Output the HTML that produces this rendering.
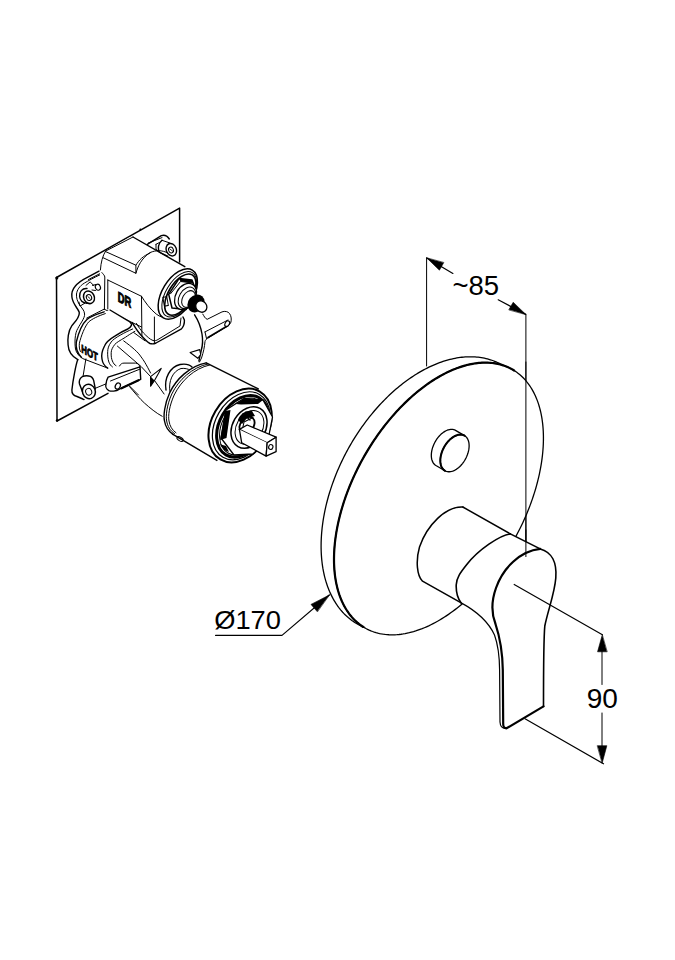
<!DOCTYPE html>
<html><head><meta charset="utf-8"><style>
html,body{margin:0;padding:0;background:#fff;}
svg{display:block;}
text{font-family:"Liberation Sans",sans-serif;fill:#000;}
</style></head><body>
<svg width="675" height="960" viewBox="0 0 675 960" stroke-linecap="round" stroke-linejoin="round">
<rect width="675" height="960" fill="#fff"/>
<path d="M56.5,277.5 L179.6,208.1 L179.6,262" stroke="#000" fill="none" stroke-width="1.5" />
<path d="M56.5,277.5 L57,421 L108,393.4" stroke="#000" fill="none" stroke-width="1.5" />
<circle cx="56.8" cy="278" r="1.5" fill="#000"/>
<circle cx="57" cy="420.5" r="1.2" fill="#000"/>
<circle cx="140.4" cy="229.6" r="1.0" fill="#000"/>
<path d="M147.3,244.3 L161.3,235.7 C 164,234.8 167,235.5 169.3,239 L 177,247 L 172,258 L 158,251.7 Z" fill="#fff" stroke="none"/>
<path d="M147.3,244.3 L161.3,235.7 C 164,234.8 167,235.5 169.3,239" stroke="#000" fill="none" stroke-width="1.4" />
<path d="M148.3,243 L162,237.6" stroke="#000" fill="none" stroke-width="1.0" />
<path d="M156,244.3 L156,249.3 L159,251.5" stroke="#000" fill="none" stroke-width="1.0" />
<path d="M156,244.3 L159.5,242.5" stroke="#000" fill="none" stroke-width="1.0" />
<path d="M162,240.3 L171.3,242.3 L175,256 L168,256.3 L159.3,252.3 C 157.5,248 158.5,243 162,240.3 Z" fill="#fff" stroke="none"/>
<path d="M162,240.3 L170,243" stroke="#000" fill="none" stroke-width="1.0" />
<path d="M162,240.3 C 158.5,243 157.5,248 159.3,252.3 L167.5,256.2" stroke="#000" fill="none" stroke-width="1.4" />
<ellipse cx="171.3" cy="249.7" rx="5.0" ry="6.4" transform="rotate(-22 171.3 249.7)" fill="#fff" stroke="#000" stroke-width="1.4"/>
<ellipse cx="171" cy="250" rx="2.4" ry="2.9" transform="rotate(-22 171 250)" fill="none" stroke="#000" stroke-width="1.0"/>
<path d="M169.8,249 L172.5,251" stroke="#000" fill="none" stroke-width="0.8" />
<path d="M105.6,251.1 L130,237 L184.8,266.7 L197,279 L200,300 L205,318 L231,313 L231,325 L206,340 L204,352 L190,372 L150,378 L140,392 L108,392 L77,396 L68,345 L72,325 L79,316 L72,291 L77,282 L100.4,269.6 C 101,262 103,255 105.6,251.1 Z" fill="#fff" stroke="none"/>
<path d="M105.6,251.1 L133,237" stroke="#000" fill="none" stroke-width="1.0" />
<path d="M133,237 L184.8,266.7" stroke="#000" fill="none" stroke-width="1.4" />
<path d="M106.3,251.9 L135.9,265.2 L135.9,273.3 L103.3,257.8" stroke="#000" fill="none" stroke-width="1.0" />
<path d="M135.9,273.3 C 138,266 141,259 150,252.6 C 156,250 162,250 168,253" stroke="#000" fill="none" stroke-width="1.0" />
<path d="M135.9,265.2 C 139,260 143,256 150,253" stroke="#000" fill="none" stroke-width="1.0" />
<path d="M105.6,251.1 C 102.5,256 101,262 100.4,270" stroke="#000" fill="none" stroke-width="1.0" />
<path d="M99,271.2 L87.8,277.1 C 82,280 77.5,283 75,286.5 C 72,290 71.5,294 71.9,297 C 72.3,301 74.5,304.5 76.5,307.5 C 78.3,310 79.3,311.5 79.3,313 C 79.3,318 75,322 71.9,325.6 C 68,331 67.5,340 68.1,345 C 68.5,352 71,356 77.8,359.6" stroke="#000" fill="none" stroke-width="1.4" />
<path d="M99.6,273.8 L88.5,279.5 M99.6,275 C 94,277.5 88,281 84.5,283 C 79.5,286 77,290 76.5,294 C 76.2,298 77.5,301 79,304 C 81.5,308 84.4,310 84.6,314 C 85,318 80,324 77.8,328.5 C 74.8,333 74.5,343 75.5,349 C 76.3,353 79,356 82.2,358.1" stroke="#000" fill="none" stroke-width="1.0" />
<path d="M86,285.4 L90.1,281.9 L93.7,285.4" stroke="#000" fill="none" stroke-width="1.0" />
<path d="M78.9,302 L80,306.1 L84.8,303.2" stroke="#000" fill="none" stroke-width="1.0" />
<path d="M84.5,288 C 80,288.5 79,293 79.6,297 C 80.5,301 83,302.5 87,303 L 94,297 L 90,290 Z" fill="#fff" stroke="none"/>
<path d="M87,288.5 C 82,288 79.3,292 79.6,296.5 C 80,300.5 82.5,302.8 87,303.3" stroke="#000" fill="none" stroke-width="1.4" />
<ellipse cx="89" cy="297.3" rx="5.3" ry="6.5" transform="rotate(-25 89 297.3)" fill="#fff" stroke="#000" stroke-width="1.5"/>
<ellipse cx="89" cy="297.5" rx="2.6" ry="3.0" transform="rotate(-25 89 297.5)" fill="none" stroke="#000" stroke-width="1.0"/>
<path d="M87.8,296.5 L90,298.5" stroke="#000" fill="none" stroke-width="0.9" />
<path d="M92.5,285.4 L96,284.5" stroke="#000" fill="none" stroke-width="1.0" />
<ellipse cx="97.9" cy="287.2" rx="2.5" ry="3" transform="rotate(-25 97.9 287.2)" fill="#fff" stroke="#000" stroke-width="1.1"/>
<path d="M92,290 L95.5,290.5" stroke="#000" fill="none" stroke-width="1.0" />
<path d="M101.9,272.6 C 103,274 104.8,275.5 104.8,277 L104.4,309.3" stroke="#000" fill="none" stroke-width="1.0" />
<path d="M107.8,280 L107.8,309" stroke="#000" fill="none" stroke-width="1.0" />
<path d="M107.8,280 L141.5,296.3" stroke="#000" fill="none" stroke-width="1.0" />
<path d="M104.4,309.3 L141.5,327" stroke="#000" fill="none" stroke-width="1.0" />
<path d="M104.4,309 L86.7,318.1" stroke="#000" fill="none" stroke-width="1.0" />
<g transform="translate(117.8,301.3) skewY(27) scale(0.66,1)"><text x="0" y="0" font-size="14.2" font-weight="bold" stroke="#000" stroke-width="1.0">DR</text></g>
<path d="M141.5,296.3 L141.9,336" stroke="#000" fill="none" stroke-width="1.0" />
<path d="M132,322.5 C 134.5,326 136.5,330 140,334 C 143,337.5 147,342 150,343.5 C 152,344.2 154,344 156,343 L181.5,328.9 C 184,326 184.5,322 184.4,320 L183,317" stroke="#000" fill="none" stroke-width="1.4" />
<path d="M136.5,323.5 C 138.5,327 140.5,330 143.5,333 C 146.5,336 150,339.5 153,340.5 C 155,341 156.5,340.5 158,339.5 L180,326 L181,318" stroke="#000" fill="none" stroke-width="1.0" />
<path d="M154.4,317 L154.4,343" stroke="#000" fill="none" stroke-width="1.0" />
<path d="M141.5,296.3 C 145,302 150,309 156.3,314.1 C 160,317 164,318 168,318" stroke="#000" fill="none" stroke-width="1.0" />
<path d="M86.9,319.5 C 82,324 78,335 76.3,342 C 75.5,348 77,353 81.6,357.4 L107.7,368.1 C 103,363 101,356 101.7,352 C 102.5,346 108,339 114.8,336.1 L127.8,329 C 132,326 131,322 127.8,320.7 L110,310 Z" fill="#fff" stroke="none"/>
<path d="M104.1,311.8 C 97,314 90,316.5 86.9,319.5 C 82,324 78,335 76.3,342 C 75.5,348 77,353 81.6,357.4" stroke="#000" fill="none" stroke-width="1.4" />
<path d="M105.3,313.6 C 98,316 92,319 88.7,321.9 C 85,326 81,336 79.4,343.2 C 79,347 79.5,349.5 80.4,351.5" stroke="#000" fill="none" stroke-width="1.0" />
<path d="M110,310 L127.8,320.7 C 131,322 132,325 131.4,325.4 C 130.5,327.5 129,328.3 127.8,329 C 122,331.5 118,334 114.8,336.1 C 110,339 106,342 104.5,346 C 102,351 101.3,356 102,359 C 102.5,363 104.5,366 107.7,368.1" stroke="#000" fill="none" stroke-width="1.4" />
<path d="M132.6,329 C 128,331 124,333 120.7,334.9 C 116,337.5 112.5,340 111.2,342 C 108.5,345.5 107.7,349 107.7,351.5 C 107.5,355 107.8,359 108.9,362.1 C 109.8,364.5 111,366 112.4,366.9" stroke="#000" fill="none" stroke-width="1.0" />
<path d="M134.9,331.3 C 131,333.5 128,335.5 125.4,337.3 C 120,340.5 116.5,342.5 114.8,344.4 C 112.5,347.5 111.2,350 111.2,352.7 C 111,356 111.5,359 112.4,361 C 113.5,363.5 114.5,365 116,365.7" stroke="#000" fill="none" stroke-width="1.0" />
<path d="M82.8,358.6 L107.7,368.1" stroke="#000" fill="none" stroke-width="1.0" />
<g transform="translate(81.3,352.3) skewY(29) scale(0.68,1)"><text x="0" y="0" font-size="11.5" font-weight="bold" stroke="#000" stroke-width="0.9">HOT</text></g>
<path d="M117.4,346.1 L141.1,366.5 L150.6,376.6" stroke="#000" fill="none" stroke-width="1.0" />
<path d="M123.7,340.9 C 132,347 138,352 141.1,356.9 C 143.5,360 146,364 150.6,373" stroke="#000" fill="none" stroke-width="1.0" />
<path d="M133.7,332.5 L145,340.8" stroke="#000" fill="none" stroke-width="1.0" />
<path d="M129.6,386.7 C 134,392 140,399 144.4,403 C 150,408 156,413 162.2,416.3" stroke="#000" fill="none" stroke-width="1.0" />
<path d="M150.6,376.6 L161.2,368.4 L154.5,380.5 L150.6,386.2 Z" stroke="#000" fill="#fff" stroke-width="1.1" />
<path d="M150.6,376.6 L154.5,380.5 L150.6,386.2 Z" fill="#000"/>
<path d="M154.5,380.5 L164.1,394" stroke="#000" fill="none" stroke-width="1.0" />
<path d="M77.8,359.6 C 76,364 73,380 71.9,390 C 71.7,393 73.5,395.5 77,396.5 L 84,399.5" stroke="#000" fill="none" stroke-width="1.4" />
<path d="M85.9,358.9 L83,376.7" stroke="#000" fill="none" stroke-width="1.0" />
<path d="M79.3,378.1 C 81,376.5 85,375.5 88.9,375.9 C 91.5,376.5 93.5,379 94.1,382.6 L 95,395 L 84,399 L 78,390 Z" fill="#fff" stroke="none"/>
<path d="M82.6,392 L79.5,384 C 78.8,381 79,379 82.2,376.7 C 85,375.5 88,375.6 90.5,376.4 C 92.5,377.5 93.8,380 94.1,382.6 L95.3,389" stroke="#000" fill="none" stroke-width="1.4" />
<ellipse cx="88.9" cy="391.5" rx="6.4" ry="7.3" transform="rotate(-20 88.9 391.5)" fill="#fff" stroke="#000" stroke-width="1.5"/>
<ellipse cx="88.7" cy="391.8" rx="3.0" ry="3.4" transform="rotate(-20 88.7 391.8)" fill="none" stroke="#000" stroke-width="1.0"/>
<path d="M94.8,388.5 L107.4,383.3" stroke="#000" fill="none" stroke-width="1.0" />
<path d="M194.6,314.8 L202.8,314.1 C 204,316 205,318.5 207.2,319.3 L222,311.9 C 225,310.8 228,311.5 229.5,313.5 C 231.5,316 231.5,320 230.9,322.2 C 230,324.5 228,326 226.5,326.7 L207.2,338.5 L203.5,350 L201.3,350 Z" fill="#fff" stroke="none"/>
<path d="M202.8,314.1 C 204,316 205,318.5 207.2,319.3 L222,311.9 C 225,310.8 228,311.5 229.5,313.5 C 231.5,316 231.5,320 230.9,322.2 C 230,324.5 228,326 226.5,326.7 L207.2,338.5 C 205.5,339.8 205,341 205,341.5 C 204.5,347 203.5,352 201.5,358 L199.5,362" stroke="#000" fill="none" stroke-width="1.0" />
<path d="M205,331.9 L228,320" stroke="#000" fill="none" stroke-width="1.0" />
<path d="M205,331.9 L206.5,338.5" stroke="#000" fill="none" stroke-width="1.0" />
<path d="M208,337.5 L226.5,326.5" stroke="#000" fill="none" stroke-width="1.6" />
<ellipse cx="227.2" cy="323.7" rx="2.1" ry="3.1" transform="rotate(30 227.2 323.7)" fill="none" stroke="#000" stroke-width="1.1"/>
<path d="M194.6,314.8 C 198,320 201,328 202,334 C 203,340 202.5,346 201.3,350 C 200.5,354 199.5,358 198.9,361.1" stroke="#000" fill="none" stroke-width="1.4" />
<path d="M190.1,352.5 L199.7,349.6 L200.7,354.5 L197.8,358.3 Z" stroke="#000" fill="#fff" stroke-width="1.1" />
<ellipse cx="177.8" cy="294" rx="28" ry="15.5" transform="rotate(-58.8 177.8 294)" fill="#fff" stroke="#000" stroke-width="1.5"/>
<ellipse cx="179.2" cy="294.3" rx="25.3" ry="13.3" transform="rotate(-58.8 179.2 294.3)" fill="none" stroke="#000" stroke-width="1.0"/>
<ellipse cx="180.3" cy="294.6" rx="23" ry="11.8" transform="rotate(-58.8 180.3 294.6)" fill="none" stroke="#000" stroke-width="1.6"/>
<path d="M168.7,294.4 L179,278.5 L192,280 L196.5,292 L186,309.5 L172,308 Z" stroke="#000" fill="#fff" stroke-width="1.5" />
<path d="M179,278.5 L192,280 L193,283 L180.5,281.5 Z" fill="#000"/>
<path d="M170.5,293.8 L180.5,281.5 L193,283" stroke="#000" fill="none" stroke-width="1.0" />
<ellipse cx="185.5" cy="296.5" rx="14" ry="9.8" transform="rotate(-60 185.5 296.5)" fill="#fff" stroke="#000" stroke-width="1.3"/>
<ellipse cx="187" cy="297.8" rx="11.5" ry="7.8" transform="rotate(-60 187 297.8)" fill="none" stroke="#000" stroke-width="1.0"/>
<ellipse cx="188.5" cy="299" rx="9" ry="6" transform="rotate(-60 188.5 299)" fill="none" stroke="#000" stroke-width="1.0"/>
<rect x="163.5" y="297" width="4" height="9" fill="none" stroke="#000" stroke-width="1" transform="rotate(-10 165 301)"/>
<ellipse cx="196" cy="303.5" rx="9.5" ry="8" transform="rotate(-50 196 303.5)" fill="#000" stroke="#000" stroke-width="0"/>
<ellipse cx="201.3" cy="306.5" rx="5.3" ry="6" transform="rotate(-40 201.3 306.5)" fill="#fff" stroke="#000" stroke-width="1.3"/>
<path d="M166,390 C 164,378 170,367 180,364.5 C 186,363.5 190,365 192,367" stroke="#000" fill="none" stroke-width="1.4" />
<path d="M170,392 C 168,381 173,371 181,368.5 C 185,368 188,369 190,370" stroke="#000" fill="none" stroke-width="1.0" />
<path d="M206.2,362.9 C 190,366 176,379 169.6,393 C 164.5,404 163.3,416 164.5,421 C 165.5,427 168,431 173,434.4 L216.9,460.4 L254.4,452.5 L271.8,410.1 L258.3,388.9 Z" fill="#fff" stroke="none"/>
<path d="M206.2,362.9 C 190,366 176,379 169.6,393 C 164.5,404 163.3,416 164.5,421 C 165.5,427 168,431 173,434.4" stroke="#000" fill="none" stroke-width="1.4" />
<path d="M207.8,364 C 192,367.5 178.5,380 171.8,394 C 166.8,405 165.6,416 166.7,421 C 167.6,426.5 170,430.5 174.5,433.5" stroke="#000" fill="none" stroke-width="1.0" />
<path d="M209.6,365 C 194,368.5 181,381 174.2,395 C 169.2,406 168,416 169,421 C 169.8,426 172,430 176,432.8" stroke="#000" fill="none" stroke-width="1.0" />
<path d="M206.2,362.9 L258.3,388.9" stroke="#000" fill="none" stroke-width="1.4" />
<path d="M173,434.4 L216.9,460.4" stroke="#000" fill="none" stroke-width="1.4" />
<ellipse cx="180.1" cy="439.1" rx="3.5" ry="1.8" transform="rotate(30 180.1 439.1)" fill="none" stroke="#000" stroke-width="1"/>
<ellipse cx="240.1" cy="425.5" rx="39.3" ry="28.6" transform="rotate(-59.85 240.1 425.5)" fill="#fff" stroke="#000" stroke-width="2.0"/>
<ellipse cx="241.2" cy="425.8" rx="36.3" ry="25.8" transform="rotate(-59.85 241.2 425.8)" fill="none" stroke="#000" stroke-width="1.2"/>
<ellipse cx="242.5" cy="426.3" rx="33" ry="23" transform="rotate(-59.85 242.5 426.3)" fill="none" stroke="#000" stroke-width="3.0"/>
<ellipse cx="243.3" cy="426.6" rx="30.5" ry="21" transform="rotate(-59.85 243.3 426.6)" fill="none" stroke="#000" stroke-width="1.0"/>
<path d="M226,410 L243.9,398.5 L263,400 L272.5,417 L268,440 L252.8,454 L234,455 L221,438 Z" stroke="#000" fill="#fff" stroke-width="1.3" />
<path d="M236,404 L243.9,398.5 L263,400 L258,404 L241,404.5 Z" fill="#000"/>
<path d="M220,440 L225,411 L230.5,410 L226.5,438 Z" fill="#000"/>
<path d="M219.5,444 L224,450 L229,452 L226,446 Z" fill="#000"/>
<ellipse cx="249" cy="427.5" rx="22" ry="16.5" transform="rotate(-59.85 249 427.5)" fill="#fff" stroke="#000" stroke-width="1.5"/>
<ellipse cx="249.5" cy="427.5" rx="18" ry="13" transform="rotate(-59.85 249.5 427.5)" fill="none" stroke="#000" stroke-width="1.0"/>
<ellipse cx="247" cy="425" rx="9" ry="6.5" transform="rotate(-50 247 425)" fill="none" stroke="#000" stroke-width="1.8"/>
<path d="M238,420 C 240,414 246,410 252,411 L 255,416 L 247,418 L 242,424 Z" fill="#000"/>
<path d="M243,414 L250,420 M246,412 L253,418" stroke="#000" fill="none" stroke-width="1.3" />
<path d="M241,436 L244,422 L252,418" stroke="#000" fill="none" stroke-width="1.1" />
<path d="M239.4,429.4 L247.2,425 L276.1,437.2 L267.2,442.8 Z" stroke="#000" fill="#fff" stroke-width="1.3" />
<path d="M239.4,429.4 L241.7,442.8 L266.1,456.1 L267.2,442.8" stroke="#000" fill="#fff" stroke-width="1.3" />
<path d="M267.2,442.8 L276.1,437.2 L276.1,451.7 L266.1,456.1 Z" stroke="#000" fill="#fff" stroke-width="1.3" />
<ellipse cx="270.8" cy="447" rx="2.1" ry="2.5" transform="rotate(20 270.8 447)" fill="none" stroke="#000" stroke-width="1.1"/>
<path d="M120,365.4 C 121,363.5 122,363.1 124,363.1 L135.6,363.1 L140,366.9 L140.7,379.4 L119.3,389.1 C 116,391.5 111,391.5 108.9,390.6 C 106,389 105.5,386 105.9,384.6 C 106.5,381 107,379 108.1,377.2 Z" fill="#fff" stroke="none"/>
<path d="M119.5,366 C 120.5,364 122,363.1 124,363.1 L135.6,363.1 C 138,363.3 139.5,365 140,366.9" stroke="#000" fill="none" stroke-width="1.0" />
<path d="M108.1,377.2 L140,366.9 L140.7,379.4 L119.3,389.1 C 116,391.5 111,391.5 108.9,390.6 C 106,389 105.5,386 105.9,384.6 C 106.3,381.5 107,379 108.1,377.2 Z" stroke="#000" fill="#fff" stroke-width="1.4" />
<path d="M110.5,381 L140,369.1" stroke="#000" fill="none" stroke-width="1.0" />
<path d="M121.5,388.3 L138.5,380.2" stroke="#000" fill="none" stroke-width="2.2" />
<ellipse cx="117.8" cy="386.1" rx="2.4" ry="3.2" transform="rotate(30 117.8 386.1)" fill="none" stroke="#000" stroke-width="1.2"/>
<path d="M129.6,386.1 L138.5,395" stroke="#000" fill="none" stroke-width="1.0" />
<line x1="426.6" y1="258" x2="426.6" y2="366" stroke="#000" fill="none" stroke-width="1.0"/>
<line x1="525.9" y1="315" x2="525.9" y2="557" stroke="#000" fill="none" stroke-width="1.0"/>
<line x1="426.8" y1="258" x2="452.9" y2="273.4" stroke="#000" fill="none" stroke-width="1.2"/>
<line x1="498.2" y1="299.8" x2="525.8" y2="314.4" stroke="#000" fill="none" stroke-width="1.2"/>
<path d="M426.80,258.00 L439.41,270.17 L443.65,262.80Z" fill="#000" stroke="#000" stroke-width="0.6"/>
<path d="M525.80,314.40 L513.19,302.23 L508.95,309.60Z" fill="#000" stroke="#000" stroke-width="0.6"/>
<text x="452.5" y="295" font-size="27.5">~85</text>
<path d="M512.24,369.39 L513.79,370.31 L515.31,371.28 L516.79,372.32 L518.24,373.40 L519.66,374.55 L521.03,375.74 L522.38,377.00 L523.68,378.30 L524.95,379.66 L526.18,381.07 L527.37,382.54 L528.52,384.05 L529.63,385.62 L530.70,387.24 L531.73,388.90 L532.72,390.61 L533.67,392.38 L534.58,394.18 L535.44,396.04 L536.26,397.94 L537.04,399.88 L537.78,401.87 L538.47,403.90 L539.12,405.97 L539.72,408.09 L540.28,410.24 L540.79,412.43 L541.26,414.66 L541.68,416.93 L542.06,419.23 L542.39,421.57 L542.68,423.95 L542.92,426.35 L543.11,428.79 L543.26,431.26 L543.36,433.76 L543.42,436.29 L543.43,438.84 L543.39,441.42 L543.31,444.03 L543.18,446.66 L543.00,449.31 L542.78,451.99 L542.51,454.69 L542.20,457.40 L541.84,460.14 L541.44,462.89 L540.99,465.65 L540.49,468.44 L539.95,471.23 L539.37,474.04 L538.74,476.86 L538.07,479.68 L537.35,482.52 L536.59,485.36 L535.79,488.21 L534.94,491.07 L534.05,493.92 L533.12,496.78 L532.15,499.64 L531.13,502.50 L530.08,505.36 L528.98,508.21 L527.85,511.07 L526.67,513.91 L525.46,516.75 L524.21,519.58 L522.92,522.40 L521.59,525.21 L520.23,528.01 L518.83,530.80 L517.39,533.57 L515.92,536.33 L514.42,539.07 L512.88,541.79 L511.32,544.50 L509.71,547.18 L508.08,549.84 L506.42,552.48 L504.72,555.10 L503.00,557.69 L501.25,560.25 L499.47,562.79 L497.67,565.30 L495.83,567.78 L493.98,570.23 L492.10,572.64 L490.19,575.03 L488.26,577.38 L486.31,579.70 L484.34,581.98 L482.35,584.22 L480.34,586.43 L478.32,588.60 L476.27,590.73 L474.21,592.81 L472.13,594.86 L470.04,596.86 L467.93,598.82 L465.81,600.74 L463.68,602.61 L461.54,604.43 L459.39,606.21 L457.22,607.94 L455.05,609.63 L452.88,611.26 L450.69,612.84 L448.51,614.38 L446.31,615.86 L444.12,617.29 L441.92,618.67 L439.72,619.99 L437.52,621.27 L435.32,622.48 L433.12,623.65 L430.92,624.76 L428.73,625.81 L426.54,626.80 L424.36,627.74 L422.18,628.63 L420.02,629.45 L417.85,630.22 L415.70,630.93 L413.56,631.58 L411.43,632.17 L409.31,632.71 L407.21,633.18 L405.12,633.60 L403.04,633.95 L400.98,634.25 L398.94,634.48 L396.91,634.66 L394.90,634.78 L392.91,634.83 L390.94,634.83 L389.00,634.76 L387.07,634.64 L385.17,634.45 L383.29,634.21 L381.43,633.91 L379.60,633.54 L377.80,633.12 L376.03,632.64 L374.28,632.09 L372.56,631.49 L370.87,630.83 L369.20,630.12 L367.57,629.34 L365.98,628.51 L364.41,627.62 L362.88,626.67 L361.37,625.67 L359.91,624.61 L358.48,623.49 L357.08,622.32 L355.72,621.09 L354.40,619.81 L353.11,618.48 L351.86,617.10 L350.65,615.66 L349.48,614.17 L348.35,612.63 L347.26,611.04 L346.21,609.40 L345.20,607.71 L344.23,605.97 L343.30,604.18 L342.41,602.35 L341.57,600.48 L340.77,598.55 L340.02,596.59 L339.30,594.58 L338.63,592.53 L338.01,590.43 L337.43,588.30 L336.89,586.13 L336.40,583.92 L335.95,581.67 L335.55,579.38 L335.20,577.06 L334.89,574.70 L334.63,572.31 L334.41,569.89 L334.24,567.44 L334.11,564.95 L334.04,562.44 L334.00,559.90 L334.02,557.33 L334.08,554.74 L334.18,552.12 L334.33,549.47 L334.53,546.81 L334.78,544.12 L335.07,541.42 L335.40,538.69 L335.78,535.95 L336.21,533.19 L336.68,530.41 L337.20,527.63 L337.76,524.83 L338.37,522.01 L339.02,519.19 L339.72,516.36 L340.45,513.52 L341.24,510.67 L342.06,507.82 L342.93,504.96 L343.84,502.11 L344.79,499.25 L345.79,496.39 L346.82,493.53 L347.90,490.67 L349.01,487.82 L350.17,484.97 L351.36,482.13 L352.59,479.29 L353.86,476.47 L355.17,473.65 L356.52,470.84 L357.90,468.05 L359.31,465.27 L360.77,462.51 L362.25,459.76 L363.77,457.03 L365.33,454.31 L366.91,451.62 L368.53,448.95 L370.18,446.30 L371.86,443.67 L373.56,441.06 L375.30,438.49 L377.07,435.94 L378.86,433.41 L380.68,430.92 L382.52,428.45 L384.39,426.02 L386.28,423.62 L388.20,421.25 L390.14,418.91 L392.10,416.61 L394.08,414.35 L396.08,412.13 L398.10,409.94 L400.13,407.79 L402.19,405.68 L404.26,403.62 L406.34,401.59 L408.44,399.61 L410.56,397.67 L412.68,395.78 L414.82,393.93 L416.97,392.13 L419.12,390.37 L421.29,388.67 L423.46,387.01 L425.64,385.40 L427.83,383.84 L430.02,382.33 L432.21,380.88 L434.41,379.47 L436.61,378.12 L438.81,376.82 L441.01,375.58 L443.21,374.39 L445.41,373.25 L447.60,372.17 L449.79,371.14 L451.98,370.18 L454.16,369.27 L456.33,368.41 L458.50,367.62 L460.65,366.88 L462.80,366.20 L464.93,365.57 L467.06,365.01 L469.17,364.51 L471.27,364.06 L473.35,363.68 L475.42,363.35 L477.47,363.09 L479.51,362.88 L481.53,362.73 L483.53,362.65 L485.51,362.62 L487.46,362.66 L489.40,362.75 L491.31,362.90 L493.20,363.12 L495.07,363.39 L496.91,363.73 L498.73,364.12 L500.52,364.57 L502.28,365.09 L504.02,365.66 L505.72,366.29 L507.40,366.97 L509.04,367.72 L510.66,368.53 L512.24,369.39Z" stroke="#000" fill="#fff" stroke-width="1.3" />
<path d="M363.67,627.19 L362.28,626.58 L360.91,625.93 L359.55,625.25 L358.22,624.54 L356.90,623.79 L355.60,623.00 L354.33,622.18 L353.07,621.33 L351.83,620.45 L350.61,619.53 L349.42,618.58 L348.24,617.60 L347.09,616.58 L345.96,615.53 L344.85,614.45 L343.76,613.34 L342.69,612.20 L341.65,611.03 L340.63,609.82 L339.64,608.59 L338.66,607.32 L337.72,606.03 L336.79,604.71 L335.89,603.35 L335.02,601.97 L334.17,600.56 L333.34,599.13 L332.54,597.66 L331.77,596.17 L331.02,594.65 L330.30,593.11 L329.60,591.54 L328.93,589.94 L328.29,588.32 L327.67,586.67 L327.08,585.00 L326.52,583.31 L325.98,581.59 L325.47,579.85 L324.99,578.09 L324.54,576.31 L324.11,574.50 L323.72,572.67 L323.35,570.82 L323.00,568.96 L322.69,567.07 L322.40,565.16 L322.14,563.24 L321.92,561.30 L321.71,559.34 L321.54,557.36 L321.40,555.36 L321.28,553.35 L321.19,551.33 L321.13,549.29 L321.10,547.23 L321.10,545.16 L321.13,543.08 L321.18,540.99 L321.27,538.88 L321.38,536.76 L321.52,534.63 L321.69,532.49 L321.89,530.34 L322.11,528.18 L322.37,526.01 L322.65,523.83 L322.96,521.65 L323.30,519.46 L323.66,517.26 L324.06,515.05 L324.48,512.84 L324.93,510.63 L325.41,508.41 L325.91,506.19 L326.45,503.96 L327.00,501.73 L327.59,499.50 L328.20,497.27 L328.84,495.04 L329.51,492.81 L330.20,490.58 L330.92,488.35 L331.67,486.12 L332.44,483.89 L333.23,481.67 L334.05,479.45 L334.90,477.23 L335.77,475.02 L336.67,472.81 L337.59,470.61 L338.53,468.41 L339.50,466.22 L340.50,464.04 L341.51,461.87 L342.55,459.71 L343.61,457.55 L344.70,455.40 L345.81,453.27 L346.94,451.14 L348.09,449.03 L349.26,446.93 L350.45,444.84 L351.67,442.77 L352.90,440.70 L354.16,438.66 L355.43,436.62 L356.73,434.61 L358.04,432.60 L359.37,430.62 L360.72,428.65 L362.09,426.70 L363.48,424.76 L364.88,422.85 L366.31,420.95 L367.74,419.07 L369.20,417.21 L370.67,415.38 L372.15,413.56 L373.66,411.76 L375.17,409.99 L376.70,408.24 L378.24,406.51 L379.80,404.80 L381.37,403.12 L382.96,401.46 L384.55,399.83 L386.16,398.22 L387.78,396.64 L389.41,395.08 L391.05,393.55 L392.70,392.04 L394.36,390.57 L396.03,389.11 L397.71,387.69 L399.40,386.30 L401.09,384.93 L402.79,383.59 L404.50,382.28 L406.22,381.00 L407.94,379.75 L409.67,378.53 L411.40,377.35 L413.14,376.19 L414.88,375.06 L416.63,373.97 L418.38,372.90 L420.13,371.87 L421.89,370.87 L423.65,369.90 L425.41,368.97 L427.17,368.07 L428.93,367.20 L430.69,366.36 L432.45,365.56 L434.21,364.80 L435.97,364.06 L437.73,363.36 L439.48,362.70 L441.23,362.07 L442.98,361.47 L444.73,360.91 L446.47,360.39 L448.21,359.90 L449.94,359.44 L451.67,359.03 L453.39,358.64 L455.11,358.29 L456.82,357.98 L458.52,357.71 L460.21,357.47 L461.90,357.26 L463.58,357.10 L465.25,356.96 L466.91,356.87 L468.56,356.81 L470.20,356.79 L471.83,356.80 L473.44,356.85 L475.05,356.93 L476.65,357.05 L478.23,357.21 L479.80,357.41 L481.35,357.63 L482.90,357.90 L484.42,358.20 L485.94,358.54 L487.44,358.91 L488.92,359.32 L490.39,359.77 L491.85,360.25 L493.28,360.76 L494.70,361.31 L496.11,361.90 L497.49,362.51 L498.86,363.17 L500.21,363.86 L501.54,364.58 L502.85,365.34" stroke="#000" fill="none" stroke-width="1.3" />
<path d="M363.33,626.96 L362.19,626.22 L361.07,625.45 L359.97,624.65 L358.89,623.82 L357.83,622.96 L356.79,622.06 L355.77,621.14 L354.77,620.19 L353.79,619.20 L352.84,618.19 L351.90,617.14 L350.99,616.07 L350.10,614.96 L349.23,613.83 L348.38,612.67 L347.56,611.48 L346.75,610.26 L345.97,609.02 L345.22,607.74 L344.49,606.44 L343.78,605.12 L343.09,603.76 L342.43,602.38 L341.79,600.98 L341.18,599.55 L340.59,598.09 L340.02,596.61 L339.48,595.11 L338.97,593.58 L338.48,592.02 L338.01,590.45 L337.57,588.85 L337.16,587.23 L336.77,585.58 L336.40,583.92 L336.06,582.23 L335.75,580.53 L335.46,578.80 L335.20,577.05 L334.96,575.28 L334.75,573.50 L334.57,571.69 L334.41,569.87 L334.28,568.03 L334.17,566.17 L334.09,564.30 L334.03,562.41 L334.01,560.50 L334.00,558.58 L334.03,556.64 L334.08,554.69 L334.15,552.72 L334.26,550.74 L334.38,548.75 L334.54,546.75 L334.72,544.73 L334.92,542.70 L335.16,540.66 L335.41,538.61 L335.70,536.55 L336.01,534.49 L336.34,532.41 L336.70,530.32 L337.09,528.23 L337.50,526.13 L337.93,524.02 L338.39,521.90 L338.88,519.78 L339.39,517.66 L339.93,515.53 L340.49,513.39 L341.07,511.26 L341.68,509.12 L342.32,506.97 L342.97,504.83 L343.65,502.68 L344.36,500.53 L345.09,498.38 L345.84,496.23 L346.62,494.09 L347.41,491.94 L348.23,489.79 L349.08,487.65 L349.94,485.51 L350.83,483.37 L351.74,481.24 L352.67,479.11 L353.62,476.99 L354.60,474.87 L355.59,472.76 L356.61,470.65 L357.65,468.55 L358.70,466.46 L359.78,464.38 L360.87,462.30 L361.99,460.24 L363.12,458.18 L364.28,456.14 L365.45,454.10 L366.64,452.08 L367.85,450.06 L369.07,448.06 L370.32,446.07 L371.58,444.10 L372.85,442.14 L374.15,440.19 L375.46,438.26 L376.78,436.34 L378.12,434.44 L379.48,432.55 L380.85,430.68 L382.23,428.83 L383.63,427.00 L385.05,425.18 L386.47,423.38 L387.91,421.60 L389.36,419.84 L390.83,418.10 L392.30,416.38 L393.79,414.68 L395.29,413.00 L396.80,411.34 L398.32,409.70 L399.85,408.09 L401.39,406.50 L402.94,404.93 L404.50,403.38 L406.06,401.86 L407.64,400.37 L409.22,398.89 L410.81,397.44 L412.41,396.02 L414.01,394.62 L415.62,393.25 L417.23,391.91 L418.85,390.59 L420.48,389.30 L422.11,388.04 L423.74,386.80 L425.38,385.59 L427.02,384.41 L428.67,383.26 L430.31,382.13 L431.96,381.04 L433.61,379.98 L435.26,378.94 L436.92,377.94 L438.57,376.96 L440.22,376.02 L441.88,375.10 L443.53,374.22 L445.18,373.37 L446.83,372.54 L448.47,371.76 L450.12,371.00 L451.76,370.27 L453.40,369.58 L455.03,368.91 L456.66,368.29 L458.29,367.69 L459.91,367.12 L461.53,366.59 L463.14,366.09 L464.74,365.63 L466.34,365.19 L467.93,364.80 L469.52,364.43 L471.09,364.10 L472.66,363.80 L474.22,363.53 L475.77,363.30 L477.31,363.10 L478.84,362.94 L480.37,362.81 L481.88,362.71 L483.38,362.65 L484.87,362.62 L486.35,362.63 L487.81,362.67 L489.27,362.74 L490.71,362.85 L492.14,362.99 L493.55,363.16 L494.95,363.37 L496.34,363.62 L497.71,363.89 L499.07,364.20 L500.41,364.54 L501.74,364.92 L503.05,365.33 L504.35,365.77 L505.63,366.25 L506.89,366.76 L508.14,367.30 L509.37,367.88 L510.58,368.49 L511.77,369.13 L512.95,369.80 L514.10,370.50" stroke="#000" fill="none" stroke-width="2.2" />
<line x1="525.9" y1="362" x2="525.9" y2="557" stroke="#000" fill="none" stroke-width="1.0"/>
<path d="M435.92,465.49 L435.11,464.94 L434.36,464.28 L433.68,463.51 L433.08,462.64 L432.57,461.67 L432.14,460.62 L431.80,459.49 L431.54,458.28 L431.38,457.00 L431.32,455.66 L431.34,454.28 L431.46,452.85 L431.67,451.39 L431.98,449.91 L432.37,448.41 L432.85,446.92 L433.41,445.43 L434.05,443.95 L434.77,442.50 L435.56,441.09 L436.41,439.72 L437.33,438.40 L438.30,437.15 L439.32,435.97 L440.38,434.86 L441.47,433.84 L442.59,432.91 L443.73,432.08 L444.89,431.35 L446.05,430.73 L447.20,430.22 L448.35,429.82 L449.48,429.54 L450.59,429.38 L451.67,429.35 L452.70,429.43 L453.69,429.63 L454.63,429.95 L455.52,430.39 L464.52,435.64 L465.33,436.19 L466.08,436.85 L466.76,437.62 L467.36,438.49 L467.87,439.46 L468.30,440.51 L468.64,441.64 L468.90,442.85 L469.06,444.13 L469.12,445.47 L469.10,446.85 L468.98,448.28 L468.77,449.74 L468.46,451.22 L468.07,452.72 L467.59,454.21 L467.03,455.70 L466.39,457.18 L465.67,458.63 L464.88,460.04 L464.03,461.41 L463.11,462.73 L462.14,463.98 L461.12,465.16 L460.06,466.27 L458.97,467.29 L457.85,468.22 L456.71,469.05 L455.55,469.78 L454.39,470.40 L453.24,470.91 L452.09,471.31 L450.96,471.59 L449.85,471.75 L448.77,471.78 L447.74,471.70 L446.75,471.50 L445.81,471.18 L444.92,470.74Z" fill="#fff" stroke="none"/>
<path d="M444.92,470.74 L435.92,465.49 L435.11,464.94 L434.36,464.28 L433.68,463.51 L433.08,462.64 L432.57,461.67 L432.14,460.62 L431.80,459.49 L431.54,458.28 L431.38,457.00 L431.32,455.66 L431.34,454.28 L431.46,452.85 L431.67,451.39 L431.98,449.91 L432.37,448.41 L432.85,446.92 L433.41,445.43 L434.05,443.95 L434.77,442.50 L435.56,441.09 L436.41,439.72 L437.33,438.40 L438.30,437.15 L439.32,435.97 L440.38,434.86 L441.47,433.84 L442.59,432.91 L443.73,432.08 L444.89,431.35 L446.05,430.73 L447.20,430.22 L448.35,429.82 L449.48,429.54 L450.59,429.38 L451.67,429.35 L452.70,429.43 L453.69,429.63 L454.63,429.95 L455.52,430.39 L464.52,435.64" stroke="#000" fill="none" stroke-width="1.3" />
<path d="M464.33,435.54 L465.15,436.06 L465.91,436.68 L466.59,437.42 L467.20,438.25 L467.74,439.18 L468.19,440.19 L468.55,441.29 L468.83,442.46 L469.01,443.70 L469.11,445.00 L469.12,446.36 L469.03,447.75 L468.86,449.18 L468.59,450.64 L468.24,452.11 L467.80,453.59 L467.28,455.06 L466.68,456.53 L466.01,457.97 L465.26,459.38 L464.45,460.76 L463.57,462.08 L462.64,463.35 L461.66,464.56 L460.63,465.69 L459.57,466.74 L458.48,467.71 L457.36,468.59 L456.23,469.37 L455.09,470.05 L453.94,470.62 L452.80,471.08 L451.67,471.42 L450.56,471.66 L449.48,471.77 L448.43,471.77 L447.42,471.65 L446.46,471.41 L445.54,471.06 L444.69,470.60 L443.90,470.02 L443.18,469.34 L442.53,468.56 L441.96,467.68 L441.47,466.71 L441.06,465.65 L440.74,464.51 L440.51,463.31 L440.37,462.03 L440.31,460.71 L440.35,459.33 L440.48,457.92 L440.70,456.47 L441.01,455.01 L441.41,453.53 L441.89,452.05 L442.45,450.58 L443.09,449.13 L443.80,447.70 L444.58,446.31 L445.42,444.96 L446.33,443.66 L447.28,442.42 L448.29,441.25 L449.33,440.15 L450.41,439.14 L451.52,438.22 L452.64,437.39 L453.78,436.66 L454.93,436.04 L456.07,435.52 L457.21,435.11 L458.33,434.82 L459.42,434.65 L460.49,434.59 L461.52,434.66 L462.51,434.83 L463.45,435.13 L464.33,435.54Z" stroke="#000" fill="none" stroke-width="1.3" />
<path d="M444.92,470.74 L444.11,470.19 L443.36,469.53 L442.68,468.76 L442.08,467.89 L441.57,466.92 L441.14,465.87 L440.80,464.74 L440.54,463.53 L440.38,462.25 L440.32,460.91 L440.34,459.53 L440.46,458.10 L440.67,456.64 L440.98,455.16 L441.37,453.66 L441.85,452.17 L442.41,450.68 L443.05,449.20 L443.77,447.75 L444.56,446.34 L445.41,444.97 L446.33,443.65 L447.30,442.40 L448.32,441.22 L449.38,440.11 L450.47,439.09 L451.59,438.16 L452.73,437.33 L453.89,436.60 L455.05,435.98 L456.20,435.47 L457.35,435.07 L458.48,434.79 L459.59,434.63 L460.67,434.60 L461.70,434.68 L462.69,434.88 L463.63,435.20 L464.52,435.64" stroke="#000" fill="none" stroke-width="2.0" />
<path d="M462.8,507 C 446,506 427,525 419.5,547 C 415.5,561 417,576 422.5,581.2 L461.2,602.9 L510.3,533.9 Z" fill="#fff" stroke="none"/>
<path d="M462.8,507 C 446,506 427,525 419.5,547 C 415.5,561 417,576 422.5,581.2 L461.2,602.9" stroke="#000" fill="none" stroke-width="1.5" />
<path d="M462.8,507 L510.3,533.9" stroke="#000" fill="none" stroke-width="1.5" />
<path d="M510.3,533.9 C 500,535 478,550 467,564.3 C 460,573 456.4,578 456.2,585 C 456,592 458,599 461.2,602.9 C 475,611 490,624 496,640 L 500,668 L544.3,706 L 555.6,575 C 556,560 548,550 540.2,548.9 Z" fill="#fff" stroke="none"/>
<path d="M510.3,533.9 C 500,535 478,550 467,564.3 C 460,573 456.4,578 456.2,585 C 456,592 458,599 461.2,602.9" stroke="#000" fill="none" stroke-width="1.6" />
<path d="M510.3,533.9 L540.2,548.9" stroke="#000" fill="none" stroke-width="1.6" />
<path d="M461.2,602.9 C 478,612 489,623 494.5,635 C 498.5,646 499.5,658 499.6,670 L 500,722 C 500.3,727 502.5,728.5 505.5,728.5" stroke="#000" fill="none" stroke-width="1.2" />
<path d="M540.2,548.9 C 520,551 503,568 496,588 C 491,602 492,615 495.5,624 C 499.5,636 502.5,652 502.8,670 L 503.2,724 C 503.2,727 504.5,728.3 506.5,728.3 L 543.5,706.4" stroke="#000" fill="none" stroke-width="2.2" />
<path d="M540.2,548.9 C 552,552 557,563 555.8,578 C 554.5,594 548,610 544.8,626 C 543.5,640 543.5,660 543.5,706.4" stroke="#000" fill="none" stroke-width="1.6" />
<line x1="525.9" y1="530" x2="525.9" y2="556.6" stroke="#000" fill="none" stroke-width="1.0"/>
<line x1="514.2" y1="584.5" x2="602.4" y2="634.8" stroke="#000" fill="none" stroke-width="1.2"/>
<line x1="525.0" y1="718.8" x2="603.5" y2="763.8" stroke="#000" fill="none" stroke-width="1.2"/>
<line x1="602.0" y1="640" x2="602.0" y2="684.5" stroke="#000" fill="none" stroke-width="1.0"/>
<line x1="602.0" y1="713" x2="602.0" y2="758" stroke="#000" fill="none" stroke-width="1.0"/>
<path d="M602.20,635.00 L597.55,651.80 L606.85,651.80Z" fill="#000" stroke="#000" stroke-width="0.6"/>
<path d="M602.20,763.00 L606.85,745.70 L597.55,745.70Z" fill="#000" stroke="#000" stroke-width="0.6"/>
<text x="586.8" y="707.6" font-size="28">90</text>
<path d="M215.6,635.4 L282,635.4 L329.3,595" stroke="#000" fill="none" stroke-width="1.2" />
<path d="M329.30,595.00 L311.01,604.38 L317.18,611.60Z" fill="#000" stroke="#000" stroke-width="0.6"/>
<text transform="translate(214.2,629) scale(1.05,1)" font-size="26">Ø170</text>
</svg>
</body></html>
